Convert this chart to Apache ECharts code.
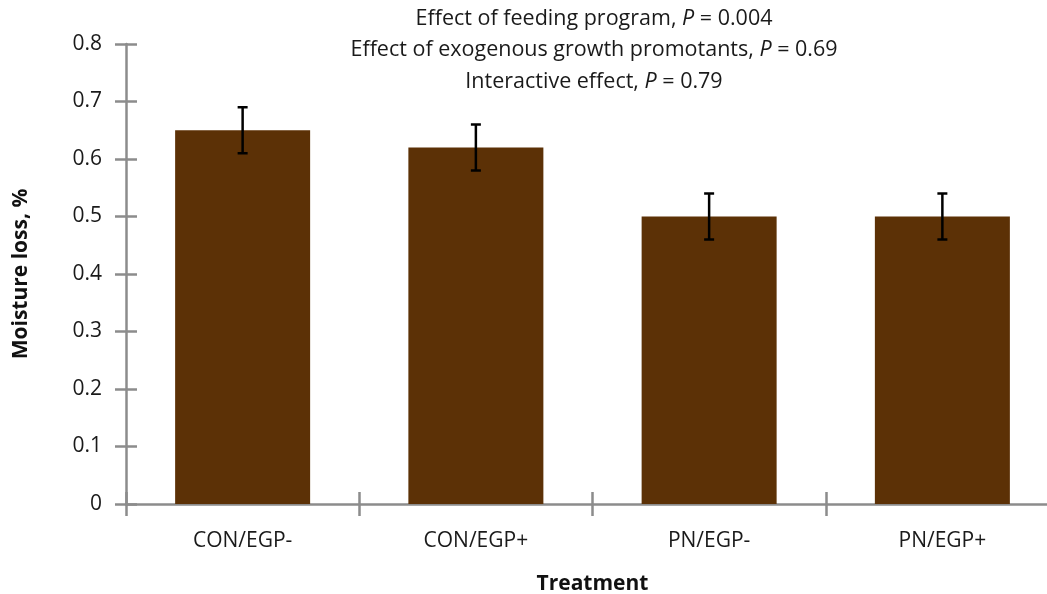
<!DOCTYPE html>
<html>
<head>
<meta charset="utf-8">
<script src="https://cdn.jsdelivr.net/npm/echarts@6/dist/echarts.min.js"></script>
<style>
  html, body { margin: 0; padding: 0; background: #fff; }
  #chart { width: 1047px; height: 594px; }
</style>
</head>
<body>
<div id="chart"></div>
<script>
// chart values
const categories = ['CON/EGP-', 'CON/EGP+', 'PN/EGP-', 'PN/EGP+'];
const moistureLoss = [0.65, 0.62, 0.50, 0.50];
const errLow = [0.61, 0.58, 0.46, 0.46];
const errHigh = [0.69, 0.66, 0.54, 0.54];
const titleLines = [
  ['Effect of feeding program, ', '0.004'],
  ['Effect of exogenous growth promotants, ', '0.69'],
  ['Interactive effect, ', '0.79']
];

const FONT = 'Open Sans';
const AXIS_GRAY = '#8c8c8c';

const dom = document.getElementById('chart');
const chart = echarts.init(dom, null, { renderer: 'canvas' });

const titleText = titleLines
  .map(l => l[0] + '{i|P} = ' + l[1])
  .join('\n');

const errData = categories.map((c, i) => [i, errLow[i], errHigh[i]]);

chart.setOption({
  animation: false,
  title: {
    text: titleText,
    left: 589,
    top: -2,
    textAlign: 'center',
    textStyle: {
      fontFamily: FONT,
      fontSize: 21.5,
      fontWeight: 'normal',
      color: '#1a1a1a',
      lineHeight: 31.5,
      rich: {
        i: { fontFamily: FONT, fontSize: 21.5, fontStyle: 'italic', color: '#1a1a1a', lineHeight: 31.5 }
      }
    }
  },
  grid: { left: 126, top: 44, width: 933, height: 460, containLabel: false, outerBoundsMode: 'none' },
  xAxis: [{
    type: 'category',
    data: categories,
    name: 'Treatment',
    nameLocation: 'middle',
    nameGap: 70,
    nameTextStyle: { fontFamily: FONT, fontSize: 21, fontWeight: 'bold', color: '#111' },
    axisLine: { lineStyle: { color: AXIS_GRAY, width: 2.5 } },
    axisTick: { show: true, length: 12, lineStyle: { color: AXIS_GRAY, width: 2.5 } },
    axisLabel: { fontFamily: FONT, fontSize: 21, color: '#1a1a1a', margin: 27 }
  }, {
    type: 'category',
    data: categories,
    position: 'bottom',
    axisLine: { show: false },
    axisTick: { show: true, inside: true, length: 12, lineStyle: { color: AXIS_GRAY, width: 2.5 } },
    axisLabel: { show: false }
  }],
  yAxis: [{
    type: 'value',
    min: 0,
    max: 0.8,
    interval: 0.1,
    name: 'Moisture loss, %',
    nameLocation: 'middle',
    nameGap: 94,
    nameTextStyle: { fontFamily: FONT, fontSize: 21, fontWeight: 'bold', color: '#111' },
    splitLine: { show: false },
    axisLine: { show: true, lineStyle: { color: AXIS_GRAY, width: 2.5 } },
    axisTick: { show: true, length: 11, lineStyle: { color: AXIS_GRAY, width: 2.5 } },
    axisLabel: {
      fontFamily: FONT, fontSize: 21, color: '#1a1a1a', margin: 24,
      formatter: v => (v === 0 ? '0' : v.toFixed(1))
    }
  }, {
    type: 'value',
    min: 0,
    max: 0.8,
    interval: 0.1,
    position: 'left',
    splitLine: { show: false },
    axisLine: { show: false },
    axisTick: { show: true, inside: true, length: 11, lineStyle: { color: AXIS_GRAY, width: 2.5 } },
    axisLabel: { show: false }
  }],
  series: [{
    type: 'bar',
    data: moistureLoss,
    barWidth: 135,
    itemStyle: { color: '#5c3106' },
    z: 1
  }, {
    type: 'custom',
    data: errData,
    z: 5,
    renderItem: function (params, api) {
      const x = api.value(0);
      const lo = api.coord([x, api.value(1)]);
      const hi = api.coord([x, api.value(2)]);
      const cap = 5;
      const style = { stroke: '#000', lineWidth: 2.5 };
      return {
        type: 'group',
        children: [
          { type: 'line', shape: { x1: hi[0], y1: hi[1], x2: lo[0], y2: lo[1] }, style },
          { type: 'line', shape: { x1: hi[0] - cap, y1: hi[1], x2: hi[0] + cap, y2: hi[1] }, style },
          { type: 'line', shape: { x1: lo[0] - cap, y1: lo[1], x2: lo[0] + cap, y2: lo[1] }, style }
        ]
      };
    }
  }]
});
</script>
</body>
</html>
